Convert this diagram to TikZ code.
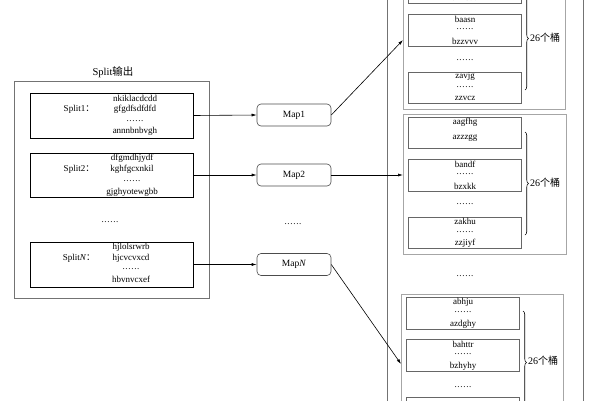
\documentclass[tikz,border=0pt]{standalone}
\usepackage{fontspec}
\setmainfont{Liberation Serif}
\newfontfamily\cjk{Noto Sans CJK SC}
\usetikzlibrary{arrows.meta,decorations.pathreplacing}
\newcommand{\dotsix}{.\kern.7pt.\kern.7pt.\kern.7pt.\kern.7pt.\kern.7pt.}
\begin{document}
\begin{tikzpicture}[x=1pt,y=-1pt,
  txt/.style={inner sep=0pt,font=\fontsize{9}{10}\selectfont},
  titletxt/.style={inner sep=0pt,font=\fontsize{10.5}{12}\selectfont},
  maptxt/.style={font=\fontsize{9.5}{11}\selectfont},
  outerbox/.style={draw=black!55,line width=1pt,inner sep=0pt},
  splitbox/.style={draw=black,line width=0.7pt,minimum width=163pt,inner sep=0pt},
  mapbox/.style={draw=black!70,line width=0.6pt,rounded corners=4pt,minimum width=74pt,minimum height=22pt,inner sep=0pt},
  groupbox/.style={draw=black!35,line width=1pt,minimum width=162pt,minimum height=140pt,inner sep=0pt},
  bucket/.style={draw=black!60,line width=0.6pt,minimum width=113pt,minimum height=31pt,inner sep=0pt},
  conn/.style={line width=0.6pt,-{Latex[length=5pt,width=3pt]}},
  bracestyle/.style={decorate,decoration={brace,amplitude=3.5pt},line width=0.6pt},
]
\useasboundingbox (0,0) rectangle (600,400);
\clip (0,0) rectangle (600,400);

% ---------- left: split output ----------
\node[titletxt] (title) at (113,72) {Split\cjk{输出}};
\node[outerbox,minimum width=195pt,minimum height=217pt] (splitout) at (111.5,189.5) {};

\node[splitbox,minimum height=45pt] (s1) at (111.5,115.5) {};
\node[txt] (s1l) at (79,109.5) {Split1\cjk{：}};
\node[txt] (s1a) at (135,98) {nkiklacdcdd};
\node[txt] (s1b) at (135,109.5) {gfgdfsdfdfd};
\node[txt] (s1c) at (135,121) {\dotsix};
\node[txt] (s1d) at (135,131.5) {annnbnbvgh};

\node[splitbox,minimum height=44pt] (s2) at (111.5,175) {};
\node[txt] (s2l) at (79,169) {Split2\cjk{：}};
\node[txt] (s2a) at (132,158) {dfgmdhjydf};
\node[txt] (s2b) at (132,169) {kghfgcxnkil};
\node[txt] (s2c) at (132,181) {\dotsix};
\node[txt] (s2d) at (132,192) {gjghyotewgbb};

\node[txt] (sdots) at (110,222) {\dotsix};

\node[splitbox,minimum height=45pt] (sn) at (111.5,264.5) {};
\node[txt] (snl) at (79,258) {Split\textit{N}\cjk{：}};
\node[txt] (sna) at (131,247) {hjlolsrwrb};
\node[txt] (snb) at (131,258) {hjcvcvxcd};
\node[txt] (snc) at (131,269.5) {\dotsix};
\node[txt] (snd) at (131,279.5) {hbvnvcxef};

% ---------- map nodes ----------
\node[mapbox,maptxt] (m1) at (294,115) {Map1};
\node[mapbox,maptxt] (m2) at (294,175) {Map2};
\node[txt] (mdots) at (293,224) {\dotsix};
\node[mapbox,maptxt] (mn) at (294,264.5) {Map\textit{N}};

\draw[conn] (s1.east) -- (m1.west);
\draw[conn] (s2.east) -- (m2.west);
\draw[conn] (sn.east) -- (mn.west);

% ---------- right: buckets ----------
\node[draw=black!55,line width=0.9pt,minimum width=196pt,minimum height=440pt,inner sep=0pt] (rout) at (485,200) {};

\newcommand{\bkt}[7]{%
  \node[bucket,minimum height=#7] (#1) at (#2,#3) {};
  \node[txt] (#1a) at (#2+0.5,#3-11) {#4};
  \node[txt] (#1b) at (#2+0.5,#3-0.5) {#5};
  \node[txt] (#1c) at (#2+0.5,#3+11) {#6};
}

% group 1
\node[groupbox] (g1) at (484,39) {};
\bkt{g1b1}{464.5}{-12.5}{}{\dotsix}{azxcvv}{31pt}
\bkt{g1b2}{464.5}{30}{baasn}{\dotsix}{bzzvvv}{32pt}
\node[txt] (g1dots) at (465,60) {\dotsix};
\bkt{g1b3}{464.5}{87.5}{zavjg}{\dotsix}{zzvcz}{31pt}
\draw[bracestyle] (525,-13) coordinate (g1bt) -- (525,90) coordinate (g1bb);
\node[txt,anchor=west,font=\fontsize{10}{12}\selectfont] (g1lab) at (530,38) {26\cjk{个桶}};

% group 2
\node[groupbox,minimum width=163pt] (g2) at (484.5,184) {};
\node[bucket] (g2b1) at (464.5,132.5) {};
\node[txt] (g2b1a) at (465,122.5) {aagfhg};
\node[txt] (g2b1c) at (465,138) {azzzgg};
\bkt{g2b2}{464.5}{175}{bandf}{\dotsix}{bzxkk}{32pt}
\node[txt] (g2dots) at (465,204) {\dotsix};
\bkt{g2b3}{464.5}{232.5}{zakhu}{\dotsix}{zzjiyf}{31pt}
\draw[bracestyle] (525,132) coordinate (g2bt) -- (525,235) coordinate (g2bb);
\node[txt,anchor=west,font=\fontsize{10}{12}\selectfont] (g2lab) at (530,183) {26\cjk{个桶}};

\node[txt] (gdots) at (465,276) {\dotsix};

% group 3
\node[groupbox] (g3) at (482,364) {};
\bkt{g3b1}{462.5}{313}{abhju}{\dotsix}{azdghy}{32pt}
\bkt{g3b2}{462.5}{355}{bahttr}{\dotsix}{bzhyhy}{32pt}
\node[txt] (g3dots) at (463,387) {\dotsix};
\bkt{g3b3}{462.5}{412.5}{}{}{}{31pt}
\draw[bracestyle] (523,311) coordinate (g3bt) -- (523,414) coordinate (g3bb);
\node[txt,anchor=west,font=\fontsize{10}{12}\selectfont] (g3lab) at (528,361) {26\cjk{个桶}};

% ---------- map -> bucket groups ----------
\coordinate (t1) at (403,40);
\coordinate (t2) at (403,175);
\coordinate (t3) at (401,364);
\draw[conn] (m1.east) -- (t1);
\draw[conn] (m2.east) -- (t2);
\draw[conn] (mn.east) -- (t3);
\end{tikzpicture}
\end{document}
